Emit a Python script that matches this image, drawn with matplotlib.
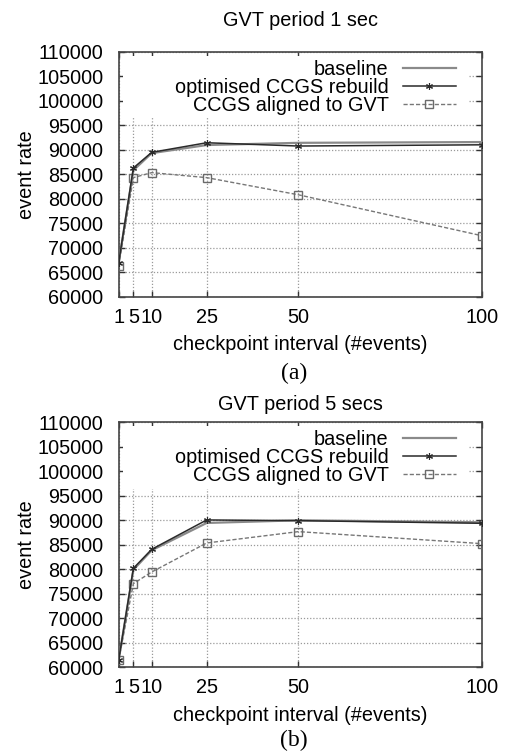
import matplotlib
matplotlib.use("Agg")
import matplotlib.pyplot as plt
from matplotlib.patches import Rectangle

# ---- data ----
intervals = [1, 5, 10, 25, 50, 100]
x_ticks = [1, 5, 10, 25, 50, 100]
y_ticks = [60000, 65000, 70000, 75000, 80000, 85000, 90000, 95000, 100000, 105000, 110000]

baseline_1s = [67000, 85800, 89300, 90950, 91400, 91560]
optimised_1s = [66970, 86270, 89460, 91420, 90750, 91000]
aligned_1s = [66300, 84300, 85320, 84300, 80800, 72450]

baseline_5s = [61500, 79900, 83880, 89460, 90000, 89600]
optimised_5s = [61500, 80200, 84080, 90070, 89930, 89390]
aligned_5s = [61500, 77070, 79450, 85370, 87690, 85240]

titles = ["GVT period 1 sec", "GVT period 5 secs"]
captions = ["(a)", "(b)"]
labels = ["baseline", "optimised CCGS rebuild", "CCGS aligned to GVT"]

plt.rcParams['font.family'] = ['Liberation Sans', 'DejaVu Sans']
FS = 14.3

fig = plt.figure(figsize=(5.05, 7.55), dpi=100)
W, H = 505, 755
ax_left = 118.7 / W
ax_w = (481.7 - 118.7) / W
ax_h = 245.0 / H
bottoms = [1 - 296.7 / H, 1 - 667.3 / H]
title_y = [1 - 21 / H, 1 - 405 / H]
cap_y = [1 - 373 / H, 1 - 740 / H]

star = (6, 2, 0)

datasets = [(baseline_1s, optimised_1s, aligned_1s), (baseline_5s, optimised_5s, aligned_5s)]

for i, (b, o, a) in enumerate(datasets):
    ax = fig.add_axes([ax_left, bottoms[i], ax_w, ax_h])
    ax.set_axisbelow(True)
    ax.plot(intervals, b, color='#8a8a8a', lw=1.6, label=labels[0], zorder=3)
    ax.plot(intervals, o, color='#2a2a2a', lw=1.1, marker=star, ms=5, mew=0.8,
            label=labels[1], zorder=4)
    ax.plot(intervals, a, color='#777777', lw=1.0, ls=(0, (3, 1.5)), marker='s', ms=6,
            mfc='none', mec='#6a6a6a', mew=1.0, label=labels[2], zorder=3)
    ax.set_xlim(1, 100)
    ax.set_ylim(60000, 110000)
    ax.set_xticks(x_ticks)
    ax.set_yticks(y_ticks)
    ax.tick_params(direction='in', top=True, right=True, length=4, width=1.0,
                   labelsize=FS, pad=11, color='#333333')
    ax.tick_params(axis='x', pad=8)
    ax.grid(True, color='#9a9a9a', ls=(0, (1, 1.5)), lw=0.9)
    for s in ax.spines.values():
        s.set_color('#444444')
        s.set_linewidth(1.2)
    # opaque key area (gnuplot key box hides the grid)
    ax.add_patch(Rectangle((0.012, 0.729), 0.95, 0.255, transform=ax.transAxes,
                           facecolor='white', edgecolor='none', zorder=1))
    ax.set_xlabel("checkpoint interval (#events)", fontsize=FS, labelpad=6)
    ax.set_ylabel("event rate", fontsize=FS, labelpad=1)
    leg = ax.legend(loc='upper right', bbox_to_anchor=(0.93, 0.967), frameon=False,
                    markerfirst=False, fontsize=FS, handlelength=2.7, handletextpad=0.7,
                    labelspacing=-0.05, borderpad=0, borderaxespad=0)
    leg.set_zorder(6)
    fig.text(ax_left + ax_w / 2, title_y[i], titles[i], ha='center', va='center',
             fontsize=FS)
    fig.text(ax_left + ax_w / 2 - 0.013, cap_y[i], captions[i], ha='center', va='center',
             fontsize=17, family=['Liberation Serif', 'DejaVu Serif'])

fig.savefig("out.png", dpi=100)
